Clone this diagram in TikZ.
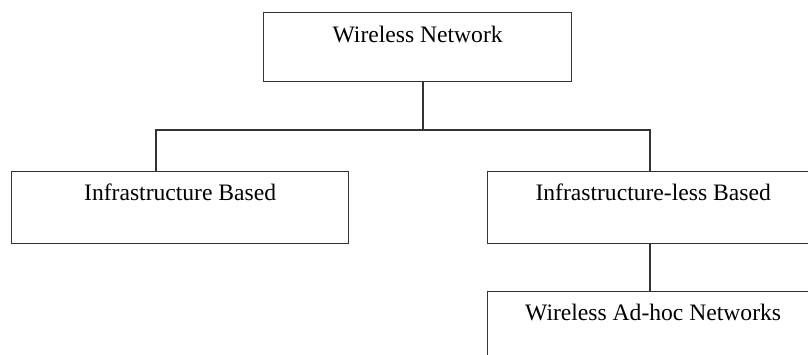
\documentclass[tikz,border=0pt]{standalone}
\usepackage{fontspec}
\setmainfont{Liberation Serif}
\begin{document}
\begin{tikzpicture}[x=1pt,y=-1pt,
  box/.style={draw=black!80, line width=1.3pt, rectangle, inner sep=0pt, anchor=north west},
  caption/.style={anchor=base, inner sep=0pt, font=\fontsize{23.6}{27}\selectfont},
  link/.style={draw=black!80, line width=1.3pt}]
  \useasboundingbox (0,0) rectangle (808,354);
  \clip (0,0) rectangle (808,354);

  % boxes
  \node[box, minimum width=308pt, minimum height=69pt] (root) at (263,12) {};
  \node[box, minimum width=337pt, minimum height=72pt] (infra) at (11,171) {};
  \node[box, minimum width=331pt, minimum height=72pt] (less) at (487,171) {};
  \node[box, minimum width=331pt, minimum height=72pt] (adhoc) at (487,291) {};

  % captions, near the top of each box
  \node[caption] (rootT)  at ([yshift=-30pt]root.north)  {Wireless Network};
  \node[caption] (infraT) at ([yshift=-29pt]infra.north) {Infrastructure Based};
  \node[caption] (lessT)  at ([yshift=-29pt]less.north)  {Infrastructure-less Based};
  \node[caption] (adhocT) at ([yshift=-29pt]adhoc.north) {Wireless Ad-hoc Networks};

  % tree connectors
  \coordinate (jr) at (423,130);
  \coordinate (jl) at (156,130);
  \coordinate (jg) at (650,130);
  \draw[link] (root.south -| jr) -- (jr);
  \draw[link] (infra.north -| jl) -- (jl) -- (jg) -- (less.north -| jg);
  \draw[link] (less.south -| jg) -- (adhoc.north -| jg);
\end{tikzpicture}
\end{document}
